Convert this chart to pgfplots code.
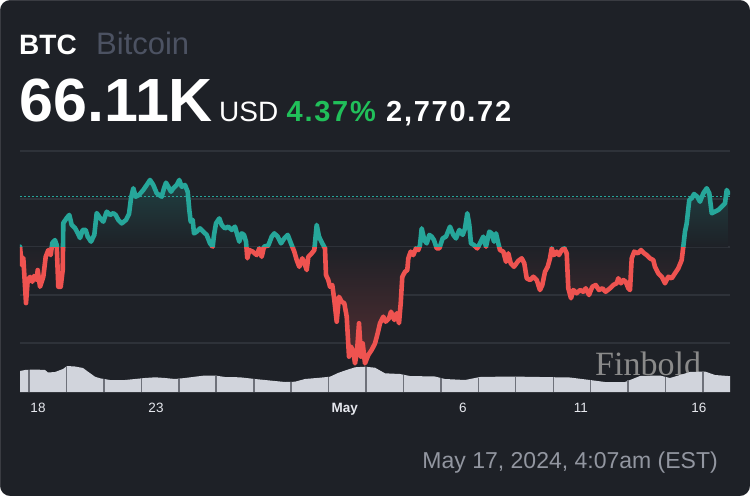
\documentclass[border=0pt]{standalone}
\usepackage{pgfplots}
\pgfplotsset{compat=1.18}
\usepackage{pgfplotstable}
\usepackage{fontspec}
\setmainfont{Liberation Sans}
\newfontfamily\wmfont{Liberation Serif}
\definecolor{bg}{HTML}{1E2127}
\definecolor{gridc}{HTML}{2E3239}
\definecolor{tealc}{HTML}{26A69A}
\definecolor{redc}{HTML}{EF5350}
\definecolor{volc}{HTML}{D1D4DC}
\definecolor{volsep}{HTML}{6E717A}
\definecolor{namegray}{HTML}{4C5262}
\definecolor{dategray}{HTML}{9296A0}
\definecolor{pctgreen}{HTML}{21C05A}
\definecolor{ticktext}{HTML}{E6E8EE}
\definecolor{wm}{HTML}{8A8A8A}
\pagecolor{bg}
% vertical tint: red at the lowest price, background at the opening price, teal at the highest
\pgfdeclareverticalshading{pricefill}{100bp}{color(0bp)=(redc!26!bg); color(25bp)=(redc!26!bg); color(56.9bp)=(bg); color(75bp)=(tealc!24!bg); color(100bp)=(tealc!24!bg)}

% price of BTC in thousand USD; t = days since 18 April 2024
\pgfplotstableread{
t p
-0.763 63.50
-0.691 62.54
-0.623 62.91
-0.508 60.56
-0.436 61.76
-0.339 61.92
-0.242 61.67
-0.169 61.97
-0.055 61.76
-0.013 62.28
0.085 61.41
0.225 61.93
0.326 62.97
0.436 63.32
0.538 63.06
0.606 63.69
0.720 63.84
0.792 63.58
0.860 61.41
0.962 61.41
1.047 62.28
1.072 64.73
1.216 64.99
1.326 65.15
1.428 64.63
1.568 64.47
1.682 64.21
1.780 63.95
1.894 64.37
2.021 64.37
2.106 64.02
2.246 63.76
2.386 64.11
2.487 65.25
2.627 64.99
2.767 64.80
2.911 65.32
3.051 65.15
3.191 65.24
3.292 65.15
3.403 64.89
3.547 64.71
3.729 64.89
3.856 65.20
3.941 66.02
4.038 66.54
4.140 66.10
4.280 66.19
4.462 66.45
4.606 66.71
4.746 66.97
4.886 66.71
5.030 66.28
5.242 66.10
5.339 66.54
5.424 66.83
5.521 66.62
5.636 66.36
5.733 66.54
5.877 66.71
5.987 66.97
6.089 66.62
6.229 66.71
6.343 66.36
6.411 65.41
6.470 64.80
6.555 64.89
6.610 64.19
6.725 64.28
6.864 64.45
7.004 64.28
7.148 64.11
7.288 63.67
7.403 63.50
7.458 64.11
7.542 64.71
7.682 64.97
7.784 64.63
7.924 64.45
8.064 64.54
8.208 64.37
8.347 64.54
8.445 64.11
8.530 63.76
8.631 64.19
8.729 64.11
8.814 63.76
8.869 62.89
8.953 63.32
9.097 63.24
9.267 63.06
9.377 63.41
9.479 62.97
9.576 63.50
9.758 63.56
9.903 64.02
10.013 64.19
10.157 64.02
10.297 63.67
10.436 63.93
10.581 64.11
10.720 63.67
10.860 63.24
10.962 62.80
11.072 62.45
11.199 62.89
11.314 62.54
11.386 62.28
11.453 62.97
11.597 63.15
11.708 63.32
11.809 64.63
11.907 64.02
12.047 63.67
12.161 63.41
12.203 62.02
12.301 61.76
12.373 61.41
12.470 61.50
12.555 60.72
12.657 59.59
12.754 60.89
12.869 60.63
12.979 60.55
13.081 59.85
13.178 57.77
13.263 58.29
13.360 58.03
13.432 57.42
13.517 58.03
13.602 59.51
13.686 57.77
13.758 58.46
13.856 57.42
13.996 57.86
14.140 58.12
14.280 58.46
14.394 58.99
14.492 59.51
14.631 59.85
14.733 59.59
14.873 59.77
14.958 60.11
15.097 59.68
15.199 60.03
15.297 59.51
15.369 60.55
15.436 61.93
15.551 62.19
15.648 62.28
15.691 62.89
15.792 63.24
15.903 63.06
16.017 63.41
16.114 63.32
16.186 63.58
16.258 64.45
16.369 63.84
16.470 63.67
16.581 64.11
16.682 64.02
16.780 63.84
16.894 63.41
17.004 63.41
17.148 63.93
17.288 64.02
17.458 64.54
17.597 64.11
17.712 63.93
17.852 64.37
17.996 64.11
18.093 64.45
18.191 65.24
18.275 64.63
18.347 63.67
18.475 63.58
18.614 63.41
18.729 63.67
18.869 64.02
18.983 63.50
19.123 64.28
19.225 64.19
19.322 63.76
19.407 64.19
19.504 63.67
19.576 63.32
19.716 63.24
19.831 62.71
19.928 63.15
20.030 62.63
20.169 62.45
20.352 62.76
20.496 62.89
20.606 62.63
20.708 61.85
20.847 61.76
20.987 61.93
21.131 61.76
21.271 61.24
21.369 61.50
21.483 62.19
21.597 62.45
21.695 62.89
21.767 63.41
21.864 63.06
21.979 63.24
22.076 63.06
22.191 63.32
22.301 63.41
22.403 63.15
22.470 61.33
22.585 60.81
22.682 61.24
22.826 61.07
22.966 61.24
23.106 61.15
23.208 61.33
23.347 60.98
23.487 61.41
23.631 61.50
23.771 61.24
23.911 61.33
24.055 61.15
24.237 61.33
24.377 61.50
24.521 61.59
24.589 61.85
24.703 61.59
24.801 61.76
24.903 61.67
25.013 61.33
25.085 61.24
25.157 62.89
25.267 63.24
25.411 63.15
25.551 63.32
25.691 63.15
25.792 63.06
25.932 62.89
26.072 62.80
26.144 62.45
26.284 62.11
26.428 61.93
26.568 61.59
26.708 61.93
26.852 61.85
26.992 62.11
27.131 62.37
27.275 62.80
27.343 63.50
27.415 64.28
27.487 64.71
27.597 65.93
27.699 66.02
27.797 66.24
27.936 66.10
28.051 65.84
28.191 66.28
28.335 66.54
28.445 66.28
28.547 65.24
28.686 65.32
28.826 65.41
28.970 65.58
29.110 65.76
29.182 66.45
29.250 66.28
}\pricetab

% volume (relative units)
\pgfplotstableread{
t v
-0.763 2.10
-0.551 2.20
-0.127 2.25
0.297 2.20
0.424 1.95
0.720 2.00
1.059 2.30
1.229 2.60
1.568 2.55
1.907 2.40
2.119 2.03
2.415 1.53
2.627 1.37
3.051 1.20
3.686 1.20
4.110 1.30
4.534 1.40
4.958 1.47
5.381 1.40
5.805 1.30
6.229 1.40
6.653 1.53
7.076 1.65
7.500 1.65
7.924 1.50
8.559 1.47
9.195 1.30
9.831 1.15
10.466 1.00
10.890 1.03
11.314 1.30
11.949 1.43
12.373 1.53
12.712 1.90
13.008 2.15
13.432 2.47
13.856 2.53
14.280 2.43
14.703 1.87
15.339 1.80
15.763 1.60
16.822 1.55
17.246 1.30
18.093 1.20
18.729 1.50
20.000 1.55
21.271 1.50
22.542 1.45
23.390 1.20
24.025 1.00
24.873 1.00
25.508 1.60
26.356 1.65
26.780 1.40
27.627 2.00
28.263 2.05
28.686 1.70
29.237 1.60
29.322 1.60
}\voltab

\pgfplotstableread{
t v
-0.381 2.20
1.216 2.60
2.797 1.30
4.377 1.37
5.975 1.35
7.542 1.65
9.153 1.30
10.720 1.02
12.318 1.52
13.898 2.53
15.496 1.75
17.076 1.40
18.657 1.45
20.237 1.55
21.839 1.50
23.419 1.20
25.000 1.20
26.581 1.55
28.178 2.05
}\septab

\begin{document}
\begin{tikzpicture}
\path (0pt,0pt) rectangle (750pt,-496pt);
\fill[white, even odd rule] (0pt,0pt) rectangle (750pt,-496pt)
  [rounded corners=10pt] (0pt,0pt) rectangle (750pt,-496pt);

\node[anchor=base west, inner sep=0, font=\wmfont\fontsize{34}{34}\selectfont, text=wm] at (595pt,-375pt) {Finbold};

\begin{axis}[at={(20pt,-392pt)}, anchor=south west, scale only axis,
  width=710pt, height=252pt, xmin=-0.763, xmax=29.322, ymin=0, ymax=25.2, hide axis]
\addplot[fill=volc, draw=none] table[x=t,y=v]{\voltab} \closedcycle;
\addplot[ycomb, draw=volsep, line width=1.2pt] table[x=t,y=v]{\septab};
\end{axis}

\begin{axis}[at={(20pt,-392pt)}, anchor=south west, scale only axis,
  width=710pt, height=252pt, xmin=-0.763, xmax=29.322, ymin=55.928, ymax=69.053,
  axis line style={draw=none}, major tick length=0pt,
  ytick={58.48,60.98,63.48,65.98,68.48}, yticklabel=\empty,
  ymajorgrids=true, xmajorgrids=false,
  major grid style={color=gridc, line width=1.1pt},
  xtick={0,5,13,18,23,28}, xticklabels={18,23,\textbf{May},6,11,16},
  xticklabel style={font=\fontsize{13.5}{14}\selectfont, text=ticktext, yshift=-8pt}]
% tinted area between the price and the opening price
\addplot[shading=pricefill, draw=none] table[x=t,y=p]{\pricetab}
  -- (axis cs:29.250,63.48) -- (axis cs:-0.763,63.48) -- cycle;
\addplot[tealc, line width=1pt, dash pattern=on 2pt off 2pt] coordinates {(-0.763,66.11) (29.322,66.11)};
\begin{scope}
\clip (axis cs:-1,63.48) rectangle (axis cs:30,70);
\addplot[tealc, line width=4.6pt, line join=round, line cap=round] table[x=t,y=p]{\pricetab};
\end{scope}
\begin{scope}
\clip (axis cs:-1,50) rectangle (axis cs:30,63.48);
\addplot[redc, line width=4.6pt, line join=round, line cap=round] table[x=t,y=p]{\pricetab};
\end{scope}
\end{axis}

\node[anchor=base west, inner sep=0, text=white, font=\fontsize{28}{28}\selectfont\bfseries] at (19pt,-54pt) {BTC};
\node[anchor=base west, inner sep=0, text=namegray, font=\fontsize{31}{31}\selectfont] at (96pt,-54pt) {Bitcoin};
\node[anchor=base west, inner sep=0, text=white, font=\fontsize{61}{61}\selectfont\bfseries] at (19.5pt,-121pt) {66.11K};
\node[anchor=base west, inner sep=0, text=white, font=\fontsize{28}{28}\selectfont] at (219pt,-121pt) {USD};
\node[anchor=base west, inner sep=0, text=pctgreen, font=\fontsize{29}{29}\selectfont\bfseries\addfontfeature{LetterSpace=6}] at (286.5pt,-121pt) {4.37\%};
\node[anchor=base west, inner sep=0, text=white, font=\fontsize{29}{29}\selectfont\bfseries\addfontfeature{LetterSpace=6}] at (386pt,-121pt) {2,770.72};
\node[anchor=base east, inner sep=0, text=dategray, font=\fontsize{23}{23}\selectfont] at (718pt,-468pt) {May 17, 2024, 4:07am (EST)};
\end{tikzpicture}
\end{document}
